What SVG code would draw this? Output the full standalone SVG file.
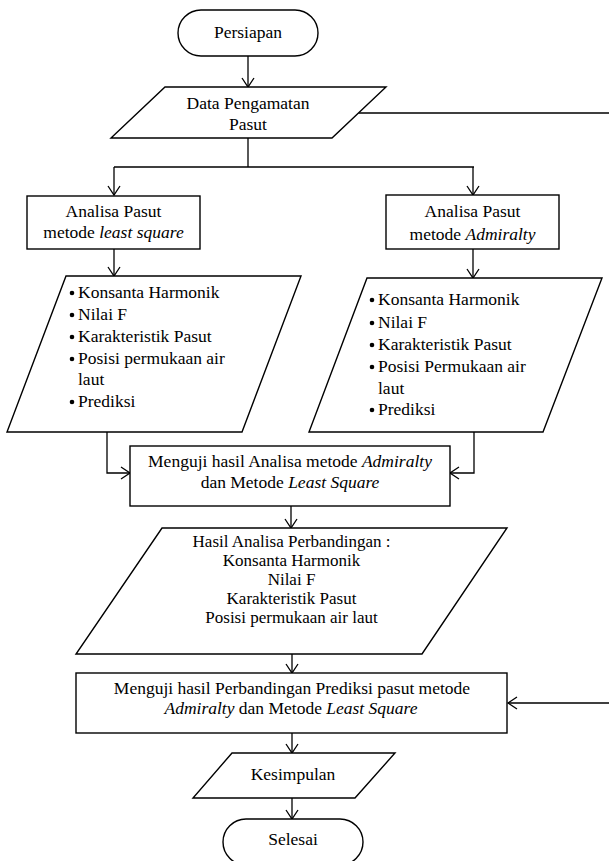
<svg xmlns="http://www.w3.org/2000/svg" width="609" height="861" viewBox="0 0 609 861">
  <defs>
    <style>
      .shape { fill: #fff; stroke: #000; stroke-width: 1.4; }
      .conn { fill: none; stroke: #000; stroke-width: 1.3; }
      text { font-family: "Liberation Serif", "Times New Roman", serif; font-size: 17.5px; fill: #000; }
      .c { text-anchor: middle; }
      .i { font-style: italic; }
      .b { fill: #000; stroke: none; }
      .t { font-size: 17px; }
    </style>
    <marker id="arr" markerWidth="14" markerHeight="14" refX="10" refY="7" orient="auto" markerUnits="userSpaceOnUse">
      <path d="M1,1 L10,7 L1,13" fill="none" stroke="#000" stroke-width="1.3"/>
    </marker>
  </defs>
  <rect width="609" height="861" fill="#fff"/>

  <g id="connectors">
    <path class="conn" d="M248,56 L248,87" marker-end="url(#arr)"/>
    <path class="conn" d="M248,138 L248,167 M114,167 L474,167"/>
    <path class="conn" d="M114,167 L114,195" marker-end="url(#arr)"/>
    <path class="conn" d="M473,167 L473,195" marker-end="url(#arr)"/>
    <path class="conn" d="M358.5,113 L615,113 L615,703 L508,703" marker-end="url(#arr)"/>
    <path class="conn" d="M114,249 L114,276" marker-end="url(#arr)"/>
    <path class="conn" d="M473,249 L473,278" marker-end="url(#arr)"/>
    <path class="conn" d="M107,432 L107,473 L130,473" marker-end="url(#arr)"/>
    <path class="conn" d="M474,432 L474,473 L450,473" marker-end="url(#arr)"/>
    <path class="conn" d="M291,506 L291,528" marker-end="url(#arr)"/>
    <path class="conn" d="M292,654 L292,673" marker-end="url(#arr)"/>
    <path class="conn" d="M292,733 L292,753" marker-end="url(#arr)"/>
    <path class="conn" d="M292,798 L292,819" marker-end="url(#arr)"/>
  </g>

  <g id="persiapan">
    <rect class="shape" x="178" y="10" width="140" height="46" rx="23" ry="23"/>
    <text class="c" x="248" y="38">Persiapan</text>
  </g>

  <g id="data-pengamatan">
    <polygon class="shape" points="165,87 386,87 332,138 111,138"/>
    <text class="c" x="248" y="109">Data Pengamatan</text>
    <text class="c" x="248" y="130">Pasut</text>
  </g>

  <g id="analisa-ls">
    <rect class="shape" x="27" y="196" width="173" height="53"/>
    <text class="c" x="113.5" y="217">Analisa Pasut</text>
    <text class="c" x="113.5" y="238">metode <tspan class="i">least square</tspan></text>
  </g>

  <g id="analisa-adm">
    <rect class="shape" x="386" y="195" width="173" height="54"/>
    <text class="c" x="472.5" y="217">Analisa Pasut</text>
    <text class="c" x="472.5" y="240">metode <tspan class="i">Admiralty</tspan></text>
  </g>

  <g id="hasil-ls">
    <polygon class="shape" points="66,276 301,276 242,432 7,432"/>
    <circle class="b" cx="72" cy="293" r="2.3"/>
    <circle class="b" cx="72" cy="315" r="2.3"/>
    <circle class="b" cx="72" cy="337" r="2.3"/>
    <circle class="b" cx="72" cy="359" r="2.3"/>
    <circle class="b" cx="72" cy="402" r="2.3"/>
    <text x="78" y="298">Konsanta Harmonik</text>
    <text x="78" y="320">Nilai F</text>
    <text x="78" y="342">Karakteristik Pasut</text>
    <text x="78" y="364">Posisi permukaan air</text>
    <text x="78" y="385">laut</text>
    <text x="78" y="407">Prediksi</text>
  </g>

  <g id="hasil-adm">
    <polygon class="shape" points="367,278 602,278 543,432 309,432"/>
    <circle class="b" cx="372" cy="300" r="2.3"/>
    <circle class="b" cx="372" cy="323" r="2.3"/>
    <circle class="b" cx="372" cy="345" r="2.3"/>
    <circle class="b" cx="372" cy="367" r="2.3"/>
    <circle class="b" cx="372" cy="410" r="2.3"/>
    <text x="378" y="305">Konsanta Harmonik</text>
    <text x="378" y="328">Nilai F</text>
    <text x="378" y="350">Karakteristik Pasut</text>
    <text x="378" y="372">Posisi Permukaan air</text>
    <text x="378" y="394">laut</text>
    <text x="378" y="415">Prediksi</text>
  </g>

  <g id="menguji-analisa">
    <rect class="shape" x="130" y="446" width="320" height="60"/>
    <text class="c" x="290" y="467">Menguji hasil Analisa metode <tspan class="i">Admiralty</tspan></text>
    <text class="c" x="290" y="488">dan Metode <tspan class="i">Least Square</tspan></text>
  </g>

  <g id="hasil-perbandingan">
    <polygon class="shape" points="162,528 507,528 422,654 76,654"/>
    <text class="c t" x="291.5" y="547">Hasil Analisa Perbandingan :</text>
    <text class="c t" x="291.5" y="566">Konsanta Harmonik</text>
    <text class="c t" x="291.5" y="585">Nilai F</text>
    <text class="c t" x="291.5" y="604">Karakteristik Pasut</text>
    <text class="c t" x="291.5" y="623">Posisi permukaan air laut</text>
  </g>

  <g id="menguji-prediksi">
    <rect class="shape" x="76" y="673" width="431" height="60"/>
    <text class="c" x="292" y="694">Menguji hasil Perbandingan Prediksi pasut metode</text>
    <text class="c" x="291" y="714"><tspan class="i">Admiralty</tspan> dan Metode <tspan class="i">Least Square</tspan></text>
  </g>

  <g id="kesimpulan">
    <polygon class="shape" points="232,753 395,753 355,798 193,798"/>
    <text class="c" x="293" y="780">Kesimpulan</text>
  </g>

  <g id="selesai">
    <rect class="shape" x="223" y="819" width="140" height="46" rx="23" ry="23"/>
    <text class="c" x="293" y="845">Selesai</text>
  </g>
</svg>
